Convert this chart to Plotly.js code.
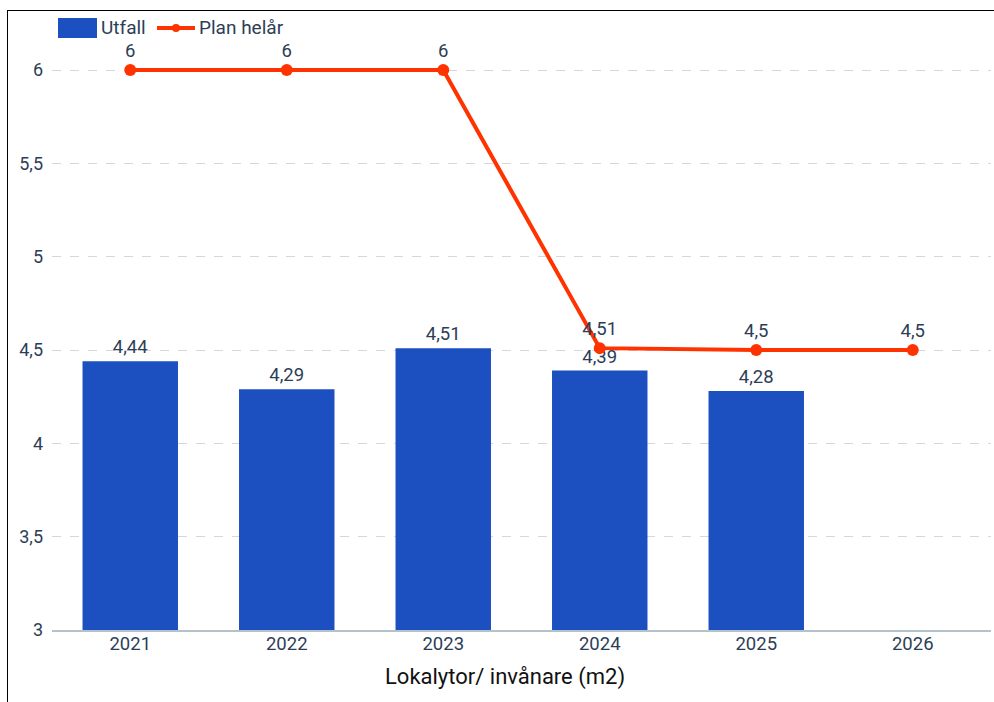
<!DOCTYPE html>
<html>
<head>
<meta charset="utf-8">
<script src="https://cdn.plot.ly/plotly-3.0.1.min.js"></script>
<style>
html,body{margin:0;padding:0;background:#fff;}
#chart{width:994px;height:702px;position:relative;}
#frame{position:absolute;left:7px;top:10px;width:990px;height:700px;border-left:1.5px solid #000;border-top:1.5px solid #000;pointer-events:none;}
</style>
</head>
<body>
<div style="position:relative;width:994px;height:702px;">
<div id="chart"></div>
<div id="frame"></div>
</div>
<script>
const years = ["2021","2022","2023","2024","2025","2026"];
const utfallYears = ["2021","2022","2023","2024","2025"];
const utfall = [4.44, 4.29, 4.51, 4.39, 4.28];
const plan = [6, 6, 6, 4.51, 4.5, 4.5];
const seriesNames = ["Utfall", "Plan helår"];
const xTitle = "Lokalytor/ invånare (m2)";

const fmt = v => String(v).replace('.', ',');
const txtColor = '#2c3e57';
const barColor = '#1c4fbf';
const lineColor = '#ff3300';

const traces = [
  {
    type: 'bar', name: seriesNames[0], x: utfallYears, y: utfall,
    marker: {color: barColor},
    text: utfall.map(fmt), textposition: 'outside', cliponaxis: false,
    textfont: {family: 'Roboto', size: 18.5, color: txtColor}
  },
  {
    type: 'scatter', mode: 'lines+markers+text', name: seriesNames[1], x: years, y: plan,
    line: {color: lineColor, width: 4},
    marker: {color: lineColor, size: 12},
    text: plan.map(fmt), textposition: 'top center', cliponaxis: false,
    textfont: {family: 'Roboto', size: 18.5, color: txtColor}
  }
];

// plot area in px: left 52, width 939, top 14, height 616
const px = x => (x - 52) / 939;
const py = y => 1 - (y - 14) / 616;

const layout = {
  width: 994, height: 702,
  margin: {l: 52, r: 3, t: 14, b: 72},
  paper_bgcolor: '#fff', plot_bgcolor: '#fff',
  separators: ', ',
  font: {family: 'Roboto', size: 18, color: txtColor},
  bargap: 0.39,
  showlegend: false,
  xaxis: {
    type: 'category', categoryorder: 'array', categoryarray: years,
    range: [-0.5, 5.5],
    showgrid: false, showline: true, linecolor: '#b4c2cc', linewidth: 1.5,
    ticks: '', ticklabelstandoff: -4,
    tickfont: {family: 'Roboto', size: 18.5, color: txtColor}
  },
  yaxis: {
    range: [3, 6.3], dtick: 0.5, tick0: 3,
    showgrid: true, gridcolor: '#d4d8dc', griddash: 'dash', gridwidth: 1,
    zeroline: false, showline: false, ticks: '',
    tickfont: {family: 'Roboto', size: 18, color: txtColor}, ticklabelstandoff: 8
  },
  shapes: [
    {type: 'rect', xref: 'paper', yref: 'paper', x0: px(58), x1: px(97), y0: py(38), y1: py(18),
     fillcolor: barColor, line: {width: 0}},
    {type: 'line', xref: 'paper', yref: 'paper', x0: px(157), x1: px(195), y0: py(28), y1: py(28),
     line: {color: lineColor, width: 4}},
    {type: 'circle', xref: 'paper', yref: 'paper', x0: px(172), x1: px(180), y0: py(32), y1: py(24),
     fillcolor: lineColor, line: {width: 0}}
  ],
  annotations: [
    {xref: 'paper', yref: 'paper', x: px(99), y: py(28), xanchor: 'left', yanchor: 'middle',
     text: seriesNames[0], showarrow: false, font: {family: 'Roboto', size: 19, color: txtColor}},
    {xref: 'paper', yref: 'paper', x: px(197), y: py(28), xanchor: 'left', yanchor: 'middle',
     text: seriesNames[1], showarrow: false, font: {family: 'Roboto', size: 19, color: txtColor}},
    {xref: 'paper', yref: 'paper', x: px(505), y: py(677), xanchor: 'center', yanchor: 'middle',
     text: xTitle, showarrow: false, font: {family: 'Roboto', size: 22, color: '#111'}}
  ]
};

Plotly.newPlot('chart', traces, layout, {displayModeBar: false, staticPlot: true});
</script>
</body>
</html>
